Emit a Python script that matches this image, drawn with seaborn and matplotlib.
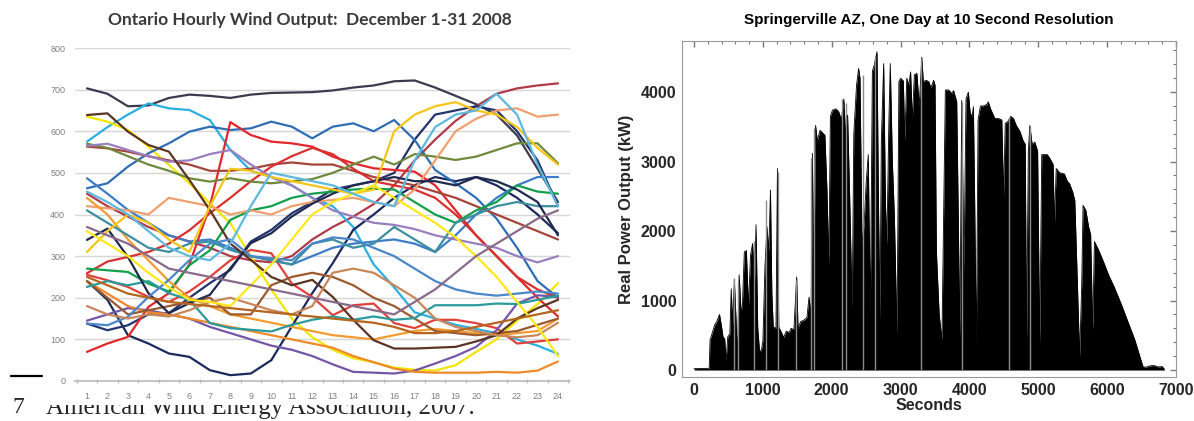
import matplotlib
matplotlib.use('Agg')
import pandas as pd
import matplotlib.pyplot as plt
import seaborn as sns
from matplotlib.ticker import MultipleLocator
from matplotlib.lines import Line2D
from matplotlib.patches import Rectangle

#%%
# Ontario hourly wind output, one line per day of December 2008
hours = list(range(1, 25))

day01 = [703, 690, 660, 662, 680, 688, 685, 680, 688, 692, 693, 694, 698, 705, 710, 720, 722, 705, 685, 665, 640, 590, 510, 430]
day02 = [450, 420, 395, 370, 350, 335, 320, 300, 290, 285, 300, 340, 370, 395, 425, 470, 530, 580, 625, 660, 690, 703, 710, 715]
day03 = [575, 610, 640, 667, 655, 651, 627, 555, 505, 490, 470, 440, 420, 370, 280, 225, 165, 150, 135, 125, 115, 100, 85, 65]
day04 = [635, 623, 603, 563, 519, 475, 427, 379, 300, 220, 150, 105, 75, 55, 45, 32, 27, 25, 38, 70, 100, 145, 185, 235]
day05 = [240, 195, 110, 90, 66, 58, 26, 14, 18, 50, 131, 211, 283, 363, 400, 440, 470, 490, 480, 490, 470, 440, 400, 355]
day06 = [138, 122, 134, 160, 163, 200, 235, 267, 335, 363, 403, 430, 460, 470, 480, 500, 580, 640, 650, 660, 650, 600, 530, 420]
day07 = [463, 475, 515, 547, 571, 599, 611, 603, 607, 623, 611, 583, 611, 619, 600, 627, 579, 507, 475, 440, 390, 320, 240, 200]
day08 = [487, 450, 411, 380, 350, 335, 340, 320, 300, 290, 280, 300, 320, 330, 335, 340, 330, 310, 350, 400, 440, 470, 490, 490]
day09 = [70, 90, 106, 178, 211, 280, 420, 622, 591, 575, 571, 563, 539, 523, 511, 507, 503, 470, 410, 350, 300, 250, 200, 155]
day10 = [563, 559, 551, 540, 530, 520, 505, 505, 510, 520, 525, 520, 520, 505, 490, 480, 470, 455, 440, 420, 400, 380, 360, 340]
day11 = [259, 287, 298, 310, 330, 362, 403, 440, 480, 515, 540, 560, 545, 510, 480, 470, 460, 440, 400, 350, 300, 250, 220, 200]
day12 = [255, 242, 226, 202, 190, 215, 250, 290, 315, 307, 234, 202, 158, 182, 186, 139, 127, 147, 147, 139, 127, 90, 95, 100]
day13 = [270, 266, 262, 234, 215, 278, 314, 387, 410, 420, 440, 450, 455, 460, 462, 460, 430, 400, 380, 410, 430, 470, 455, 450]
day14 = [570, 560, 540, 520, 505, 487, 479, 487, 479, 475, 480, 485, 500, 520, 539, 520, 545, 539, 531, 539, 555, 571, 571, 523]
day15 = [565, 570, 555, 540, 527, 530, 545, 555, 520, 490, 470, 440, 410, 395, 380, 375, 365, 350, 340, 330, 320, 300, 285, 300]
day16 = [145, 160, 175, 170, 160, 150, 130, 115, 100, 85, 75, 60, 40, 22, 20, 18, 25, 42, 60, 82, 122, 186, 206, 202]
day17 = [240, 210, 180, 165, 160, 150, 140, 130, 120, 110, 100, 90, 80, 60, 45, 30, 22, 20, 20, 20, 22, 20, 25, 47]
day18 = [420, 415, 410, 400, 440, 430, 420, 400, 410, 400, 420, 430, 435, 440, 430, 420, 460, 530, 600, 630, 650, 655, 635, 640]
day19 = [440, 400, 340, 290, 240, 200, 180, 160, 150, 140, 130, 120, 110, 105, 100, 110, 120, 125, 120, 115, 110, 115, 120, 150]
day20 = [240, 200, 160, 170, 180, 190, 200, 160, 160, 230, 250, 260, 250, 230, 200, 180, 150, 120, 115, 110, 115, 120, 135, 150]
day21 = [226, 240, 230, 240, 211, 195, 139, 127, 123, 119, 135, 147, 155, 147, 155, 147, 151, 182, 182, 182, 186, 185, 195, 205]
day22 = [410, 380, 350, 320, 310, 330, 335, 315, 300, 290, 280, 330, 340, 320, 330, 370, 340, 310, 380, 400, 420, 430, 420, 420]
day23 = [639, 643, 599, 567, 551, 483, 411, 330, 291, 250, 230, 243, 202, 147, 98, 78, 78, 80, 82, 95, 110, 150, 175, 195]
day24 = [339, 366, 298, 211, 163, 187, 207, 271, 331, 355, 395, 426, 450, 470, 480, 490, 480, 480, 470, 490, 480, 460, 430, 350]
day25 = [138, 134, 154, 202, 243, 290, 330, 340, 300, 295, 290, 330, 345, 340, 320, 300, 270, 240, 220, 210, 205, 210, 215, 210]
day26 = [180, 160, 150, 160, 155, 170, 190, 200, 185, 170, 160, 180, 260, 270, 260, 230, 200, 150, 130, 120, 110, 105, 110, 140]
day27 = [310, 360, 400, 380, 340, 310, 420, 510, 505, 490, 480, 470, 460, 450, 460, 600, 640, 660, 670, 650, 640, 610, 560, 520]
day28 = [360, 330, 300, 260, 225, 195, 190, 180, 230, 280, 340, 400, 430, 450, 470, 440, 410, 380, 345, 300, 250, 190, 130, 60]
day29 = [370, 350, 330, 300, 270, 260, 250, 240, 230, 220, 210, 200, 190, 180, 170, 160, 190, 220, 260, 300, 330, 360, 390, 410]
day30 = [455, 430, 400, 360, 320, 300, 290, 330, 420, 500, 490, 480, 470, 450, 430, 420, 530, 610, 640, 650, 690, 640, 520, 420]
day31 = [250, 230, 210, 200, 190, 185, 180, 175, 170, 165, 160, 155, 150, 145, 140, 130, 115, 115, 120, 130, 140, 150, 160, 170]

days = [day01, day02, day03, day04, day05, day06, day07, day08, day09, day10,
        day11, day12, day13, day14, day15, day16, day17, day18, day19, day20,
        day21, day22, day23, day24, day25, day26, day27, day28, day29, day30, day31]

day_colors = ['#3b3b4f', '#b03a48', '#2ab0e0', '#f2e600', '#1b2a5c', '#24336e', '#2f6db5',
              '#3d7cc9', '#e3262b', '#a5443a', '#d8312f', '#e0403a', '#12a04a', '#6f8a3c',
              '#9a7fc0', '#7456a8', '#ef8a2a', '#f0a070', '#f29b30', '#9b5a2e', '#2a9a9c',
              '#3b8f9e', '#5b3424', '#202a50', '#4a86c8', '#c8875a', '#f5c518', '#ffe81a',
              '#8a6a8a', '#5fb8e0', '#b5651d']

#%%
# Springerville AZ, real power output
solar_sec = [0, 220, 232, 260, 300, 330, 370, 400, 420, 445, 465, 490, 520, 540, 560, 585,
             610, 630, 655, 680, 700, 730, 760, 790, 820, 850, 880, 900, 925, 950, 975, 1000,
             1030, 1060, 1085, 1110, 1130, 1150, 1190, 1211, 1230, 1270, 1300, 1340, 1380, 1410,
             1450, 1490, 1510, 1550, 1600, 1640, 1670, 1700, 1718, 1740, 1765, 1790, 1830, 1860,
             1900, 1930, 1958, 1980, 2010, 2060, 2100, 2140, 2175, 2200, 2230, 2260, 2297, 2320,
             2360, 2390, 2410, 2440, 2470, 2500, 2530, 2560, 2590, 2620, 2657, 2680, 2700, 2720,
             2754, 2780, 2800, 2830, 2850, 2880, 2910, 2948, 2975, 3000, 3040, 3060, 3090, 3120,
             3145, 3170, 3200, 3236, 3270, 3308, 3330, 3370, 3410, 3440, 3480, 3500, 3520, 3560,
             3600, 3630, 3650, 3700, 3740, 3770, 3815, 3835, 3860, 3888, 3920, 3950, 3984, 4010,
             4040, 4057, 4075, 4100, 4125, 4160, 4200, 4250, 4273, 4310, 4370, 4420, 4470, 4495,
             4520, 4560, 4600, 4640, 4680, 4730, 4780, 4810, 4830, 4855, 4877, 4910, 4950, 4990,
             5020, 5050, 5090, 5130, 5165, 5215, 5235, 5260, 5310, 5350, 5380, 5420, 5455, 5500,
             5530, 5560, 5600, 5630, 5650, 5690, 5731, 5760, 5790, 5815, 5876, 5950, 6020, 6100,
             6200, 6300, 6400, 6480, 6520, 6560, 6620, 6680, 6740, 6800, 6830]
solar_kw = [20, 25, 430, 520, 650, 700, 800, 620, 480, 450, 130, 480, 520, 1170, 650, 1300,
            720, 190, 1370, 900, 870, 1700, 1720, 900, 1650, 1820, 1300, 2090, 600, 290, 260, 420,
            1500, 2060, 1700, 2590, 1100, 620, 600, 2900, 620, 540, 470, 560, 540, 600,
            580, 1340, 600, 700, 720, 760, 1050, 780, 3120, 1400, 3520, 3300, 3450, 3420,
            3380, 2600, 1510, 3650, 3740, 3760, 3720, 3600, 3900, 3400, 3670, 2500, 860, 3400,
            4100, 4340, 4200, 1800, 2100, 2700, 3100, 820, 4300, 4400, 4580, 2300, 700, 3300,
            4410, 2400, 1800, 3600, 4410, 3000, 2200, 480, 4150, 4200, 4160, 3300, 4200, 4100,
            4290, 3600, 4250, 4270, 3800, 4500, 4150, 4170, 4150, 4060, 4170, 4100, 1700, 800,
            430, 2600, 4030, 4030, 3980, 4020, 3860, 2400, 450, 3880, 1400, 3900, 4000, 3700,
            3650, 3790, 2500, 310, 3600, 3800, 3800, 3820, 3860, 3750, 3620, 3620, 3600, 2500,
            3550, 3580, 3650, 3620, 3520, 3440, 3300, 3250, 430, 3150, 3520, 3250, 3280, 3150,
            380, 3100, 3100, 3100, 3050, 2960, 2100, 2900, 2840, 2830, 2820, 2720, 2680, 2560,
            2440, 1500, 200, 1200, 2370, 2300, 2060, 1950, 570, 1850, 1726, 1550, 1370, 1200,
            960, 700, 440, 180, 50, 40, 60, 65, 45, 50, 15]

# lighter grey spikes that stand above / inside the black body
grey_sec = [575, 640, 870, 1045, 1225, 1480, 1705, 1745, 2150, 2205, 2450, 2630, 3290, 3890, 4580, 4885]
grey_kw = [1330, 1250, 1850, 2450, 2850, 1300, 3050, 3480, 3900, 3850, 4250, 4500, 4480, 3860, 3640, 3500]

#%%
sns.set_theme(style='white')
plt.rcParams['font.family'] = ['Liberation Sans', 'DejaVu Sans']

W, H = 1194., 421.
fig = plt.figure(figsize=(W / 100, H / 100), dpi=100)

# left panel : spaghetti of daily profiles
ax1 = fig.add_axes([75 / W, 1 - 381 / H, 495 / W, 333 / H])
ax1.set_zorder(5)

rows = []
for i, vals in enumerate(days):
    for h, v in zip(hours, vals):
        rows.append((h, v, 'Dec %02d' % (i + 1)))
wind = pd.DataFrame(rows, columns=['hour', 'mw', 'day'])

sns.lineplot(data=wind, x='hour', y='mw', hue='day', palette=day_colors,
             legend=False, lw=1.6, ax=ax1)

ax1.set_xlim(0.415, 24.585)
ax1.set_ylim(0, 800)
ax1.set_xticks(hours)
ax1.set_yticks(range(0, 801, 100))
ax1.set_xticks([h + 0.5 for h in range(0, 25)], minor=True)
ax1.grid(axis='y', color='#d6d6d6', lw=1)
ax1.set_axisbelow(True)
for s in ['left', 'right', 'top']:
    ax1.spines[s].set_visible(False)
ax1.spines['bottom'].set_color('#bdbdbd')
ax1.tick_params(axis='y', length=0, pad=7, labelsize=6.5, labelcolor='#808080')
ax1.tick_params(axis='x', which='major', length=0, pad=8, labelsize=6.5, labelcolor='#808080')
ax1.tick_params(axis='x', which='minor', length=3, direction='inout', color='#bdbdbd', bottom=True)
ax1.set_xlabel('')
ax1.set_ylabel('')

fig.text(310 / W, 1 - 20 / H, 'Ontario Hourly Wind Output:  December 1-31 2008',
         ha='center', va='center', fontsize=12.5, fontweight='bold', color='#3a3a3a',
         family=['Lato', 'DejaVu Sans'])

# right panel : one day of PV output
ax2 = fig.add_axes([682 / W, 1 - 377 / H, 494 / W, 336 / H])
ax2.fill_between(solar_sec, solar_kw, 0, color='black', lw=0)
sns.lineplot(x=solar_sec, y=solar_kw, color='black', lw=0.6, sort=False,
             estimator=None, ax=ax2)
ax2.vlines(grey_sec, 0, grey_kw, color='#8c8c8c', lw=1.0)

ax2.set_xlim(-175, 7000)
ax2.set_ylim(-100, 4735)
ax2.xaxis.set_major_locator(MultipleLocator(1000))
ax2.yaxis.set_major_locator(MultipleLocator(1000))
ax2.xaxis.set_minor_locator(MultipleLocator(200))
ax2.yaxis.set_minor_locator(MultipleLocator(200))
ax2.tick_params(which='both', direction='in', top=True, right=True, color='#777777')
ax2.tick_params(which='major', length=4, width=1)
ax2.tick_params(which='minor', length=2, width=0.8)
ax2.tick_params(labelsize=11.5, pad=4)
for lab in ax2.get_xticklabels() + ax2.get_yticklabels():
    lab.set_fontweight('bold')
for s in ax2.spines.values():
    s.set_color('#999999')
    s.set_linewidth(0.8)
ax2.set_xlabel('Seconds', fontsize=11.5, fontweight='bold', labelpad=0)
ax2.set_ylabel('Real Power Output (kW)', fontsize=12, fontweight='bold', labelpad=5)

fig.text(929 / W, 1 - 20 / H, 'Springerville AZ, One Day at 10 Second Resolution',
         ha='center', va='center', fontsize=11, fontweight='bold', color='black')

#%%
# footnote from the page, its top hidden under the left chart
fig.add_artist(Line2D([11 / W, 42 / W], [45 / H, 45 / H], color='black', lw=1.6))
fig.text(13 / W, 8 / H, '7', fontsize=17, va='baseline', ha='left', zorder=1,
         family=['Liberation Serif', 'DejaVu Serif'])
fig.text(46 / W, 7 / H, 'American Wind Energy Association, 2007.', fontsize=18,
         va='baseline', ha='left', zorder=1, family=['Liberation Serif', 'DejaVu Serif'])
# white band of the chart picture that covers the top of the footnote
cover = Rectangle((44 / W, 16 / H), 530 / W, 24 / H, transform=fig.transFigure,
                  facecolor='white', edgecolor='none', zorder=2)
fig.add_artist(cover)

fig.savefig('out.png', dpi=100)
